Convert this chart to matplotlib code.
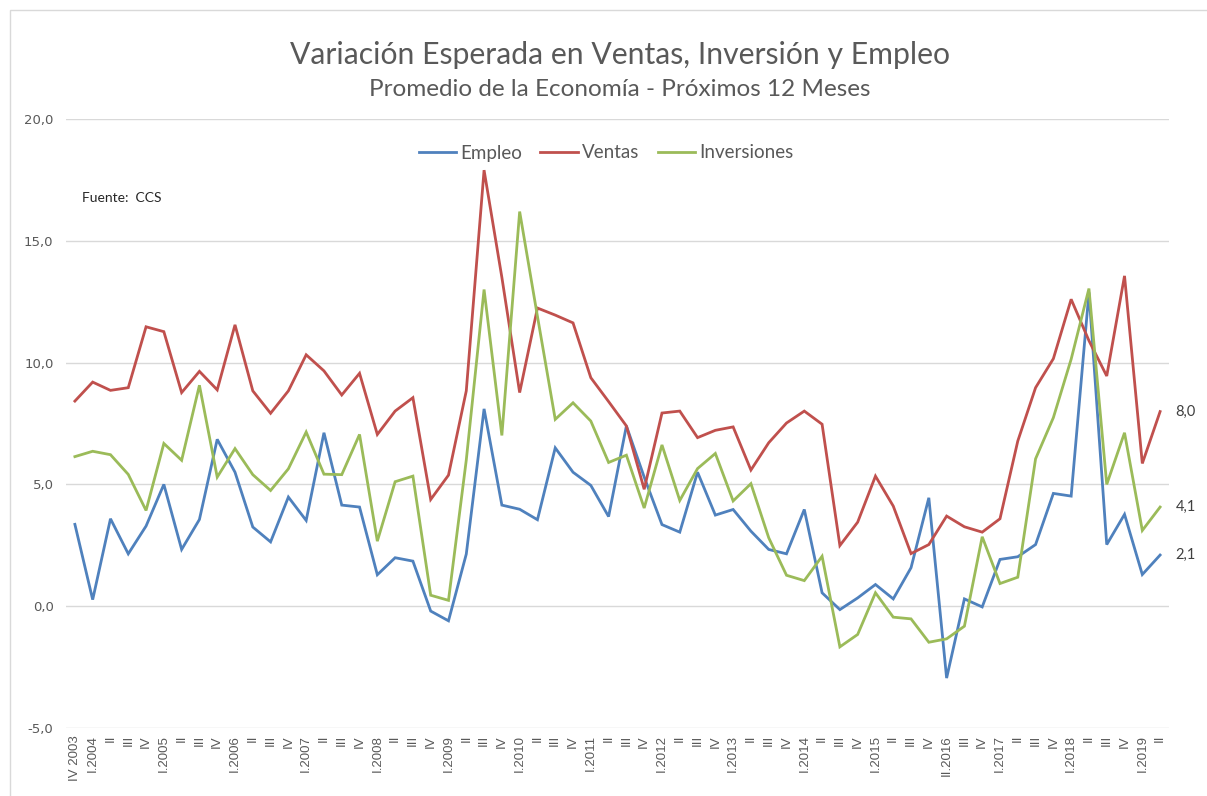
import matplotlib
matplotlib.use('Agg')
import matplotlib.pyplot as plt
from matplotlib.patches import Rectangle

# quarters IV 2003 .. II 2019 (no I 2016 in the source)
quarters = ['IV 2003',
            'I.2004', 'II', 'III', 'IV', 'I.2005', 'II', 'III', 'IV',
            'I.2006', 'II', 'III', 'IV', 'I.2007', 'II', 'III', 'IV',
            'I.2008', 'II', 'III', 'IV', 'I.2009', 'II', 'III', 'IV',
            'I.2010', 'II', 'III', 'IV', 'I.2011', 'II', 'III', 'IV',
            'I.2012', 'II', 'III', 'IV', 'I.2013', 'II', 'III', 'IV',
            'I.2014', 'II', 'III', 'IV', 'I.2015', 'II', 'III', 'IV',
            'II.2016', 'III', 'IV', 'I.2017', 'II', 'III', 'IV',
            'I.2018', 'II', 'III', 'IV', 'I.2019', 'II']

empleo = [3.36, 0.27, 3.59, 2.15, 3.29, 5.0, 2.33, 3.56, 6.85, 5.5,
          3.25, 2.64, 4.48, 3.52, 7.12, 4.15, 4.07, 1.29, 1.99, 1.85,
          -0.2, -0.6, 2.14, 8.1, 4.15, 3.98, 3.55, 6.5, 5.5, 4.96,
          3.68, 7.4, 5.3, 3.35, 3.04, 5.5, 3.74, 3.97, 3.08, 2.33,
          2.15, 3.97, 0.55, -0.14, 0.34, 0.89, 0.3, 1.58, 4.45, -2.95,
          0.3, -0.03, 1.92, 2.03, 2.53, 4.63, 4.52, 12.88, 2.53, 3.77,
          1.3, 2.1]

ventas = [8.42, 9.2, 8.86, 8.97, 11.47, 11.27, 8.77, 9.64, 8.88, 11.55,
          8.84, 7.92, 8.84, 10.32, 9.66, 8.67, 9.56, 7.05, 8.01, 8.56,
          4.38, 5.38, 8.84, 17.9, 13.5, 8.77, 12.24, 11.95, 11.63, 9.38,
          8.4, 7.4, 4.8, 7.93, 8.01, 6.92, 7.22, 7.36, 5.59, 6.71,
          7.52, 8.01, 7.47, 2.49, 3.45, 5.34, 4.11, 2.16, 2.53, 3.7,
          3.26, 3.04, 3.59, 6.78, 8.97, 10.16, 12.6, 10.9, 9.45, 13.56,
          5.86, 7.99]

inversiones = [6.14, 6.36, 6.22, 5.41, 3.93, 6.68, 5.99, 9.07, 5.3, 6.47,
               5.4, 4.75, 5.64, 7.15, 5.42, 5.4, 7.05, 2.67, 5.11, 5.34,
               0.45, 0.24, 6.0, 13.0, 7.01, 16.2, 11.9, 7.67, 8.35, 7.6,
               5.9, 6.2, 4.03, 6.62, 4.34, 5.65, 6.27, 4.32, 5.03, 2.81,
               1.27, 1.05, 2.05, -1.67, -1.16, 0.55, -0.45, -0.52, -1.48, -1.34,
               -0.82, 2.85, 0.93, 1.19, 6.05, 7.74, 10.14, 13.04, 5.0, 7.12,
               3.11, 4.07]

series_names = ['Empleo', 'Ventas', 'Inversiones']
colors = ['#4F81BD', '#C0504D', '#9BBB59']
yticks = [-5, 0, 5, 10, 15, 20]

plt.rcParams['font.family'] = ['Lato', 'DejaVu Sans']
gray = '#595959'

fig = plt.figure(figsize=(12.07, 7.96), dpi=100)
ax = fig.add_axes([66 / 1207, 1 - 728 / 796, (1169 - 66) / 1207, (728 - 119) / 796])

x = list(range(len(quarters)))
for name, vals, col in zip(series_names, [empleo, ventas, inversiones], colors):
    ax.plot(x, vals, color=col, lw=2.0, label=name, solid_joinstyle='miter')

ax.set_xlim(-0.5, len(quarters) - 0.5)
ax.set_ylim(-5, 20)
ax.set_yticks(yticks)
ax.set_yticklabels([f'{v:.1f}'.replace('.', ',') for v in yticks],
                   fontsize=9.5, color=gray, family='DejaVu Sans')
ax.set_xticks(x)
ax.set_xticklabels(quarters, rotation=90, fontsize=9.5, color=gray,
                   family='Liberation Sans')
ax.tick_params(axis='both', length=0)
ax.tick_params(axis='y', pad=9)
ax.tick_params(axis='x', pad=5)
ax.grid(axis='y', color='#D9D9D9', lw=1)
ax.set_axisbelow(True)
for s in ax.spines.values():
    s.set_visible(False)

# end-of-series data labels
for vals in [ventas, inversiones, empleo]:
    ax.annotate(f'{vals[-1]:.1f}'.replace('.', ','), (x[-1], vals[-1]),
                xytext=(11, 0), textcoords='offset points', va='center',
                fontsize=10.5, color='#404040', annotation_clip=False)

fig.text(620 / 1207, 1 - 55 / 796, 'Variación Esperada en Ventas, Inversión y Empleo',
         ha='center', va='center', fontsize=21.7, color=gray)
fig.text(620 / 1207, 1 - 89 / 796, 'Promedio de la Economía - Próximos 12 Meses',
         ha='center', va='center', fontsize=17.5, color=gray)
fig.text(82 / 1207, 1 - 198 / 796, 'Fuente:  CCS', ha='left', va='center',
         fontsize=10, color='#262626')

fig.legend(loc='center', bbox_to_anchor=(0.502, 1 - 153 / 796), ncol=3,
           frameon=False, fontsize=13.5, handlelength=2.0, handletextpad=0.2,
           columnspacing=1.0, labelcolor=gray)

# light chart border
fig.patches.append(Rectangle((10 / 1207, -0.1), 1.1, 1.1 - 10 / 796,
                             transform=fig.transFigure, fill=False,
                             ec='#D9D9D9', lw=1))

fig.savefig('out.png', dpi=100)
